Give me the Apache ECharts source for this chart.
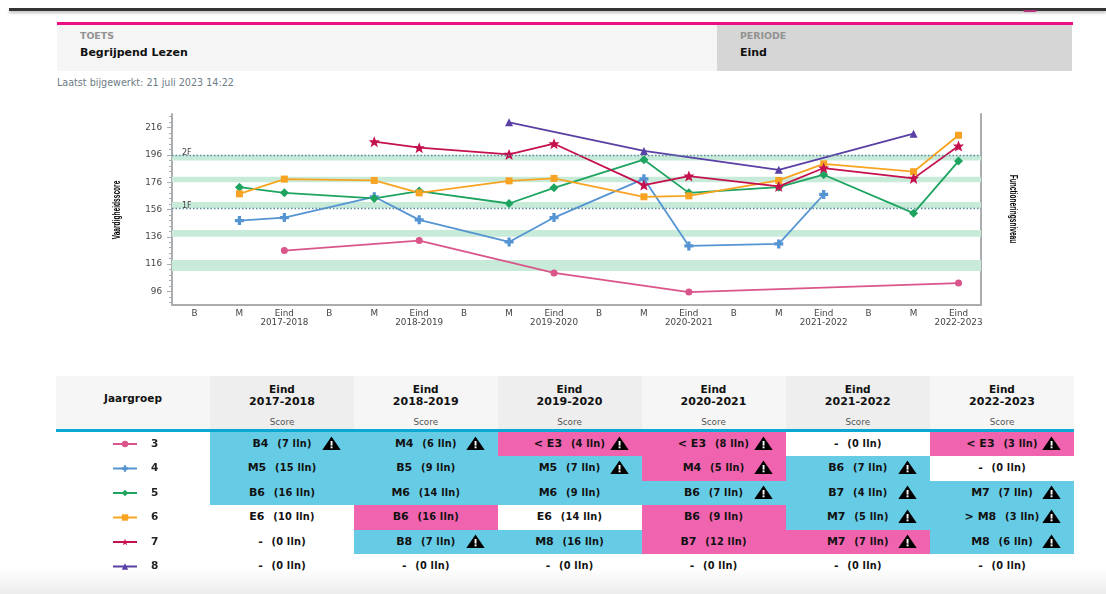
<!DOCTYPE html>
<html>
<head>
<meta charset="utf-8">
<script src="https://cdn.jsdelivr.net/npm/echarts@6/dist/echarts.min.js"></script>
<style>
  html, body { margin: 0; padding: 0; background: #fff; }
  body { width: 1106px; height: 594px; overflow: hidden; position: relative; font-family: "DejaVu Sans", sans-serif; color: #111; }
  .abs { position: absolute; }
  #topbar { left: 9px; right: 0; top: 8px; height: 3px; background: #333; box-shadow: 0 2px 3px #bbb; }
  #arc { left: 1023px; top: 10px; width: 14px; height: 2px; background: #b0307a; border-radius: 0 0 8px 8px; }
  #pink { left: 57px; top: 22px; width: 1016px; height: 3px; background: #ec0f83; }
  #toets { left: 57px; top: 25px; width: 660px; height: 46px; background: #f5f5f5; }
  #periode { left: 717px; top: 25px; width: 355px; height: 46px; background: #d6d6d6; }
  .lab { font-size: 9.4px; font-weight: bold; color: #929292; position: absolute; left: 23px; top: 5px; }
  .val { font-size: 11px; font-weight: bold; color: #111; position: absolute; left: 23px; top: 21px; }
  #updated { left: 57px; top: 77px; font-size: 9.6px; color: #6d7c86; }
  #bottom { left: 0; right: 0; top: 568px; height: 26px; background: linear-gradient(#fff, #ececec); }
  #tabel { left: 56px; top: 376px; width: 1018px; border-collapse: collapse; table-layout: fixed; }
  #tabel th { padding: 0; height: 52.5px; background: #f6f6f6; font-size: 10.5px; line-height: 12px; border-bottom: 3px solid #0aa8d2; position: relative; }
  #tabel th.even { background: #eeeeee; }
  #tabel th small { position: absolute; left: 0; right: 0; top: 40px; font-size: 8.8px; font-weight: normal; color: #555; }
  #tabel th .kop { position: absolute; left: 0; right: 0; top: 7px; }
  #tabel th .jaar { font-size: 11px; }
  #tabel td { padding: 0 0 1px 0; height: 23.5px; text-align: center; font-size: 11px; font-weight: bold; position: relative; white-space: nowrap; }
  #tabel td span { font-size: 9.8px; margin-left: 5px; letter-spacing: 0.2px; }
  #tabel td.b { background: #66cce6; }
  #tabel td.p { background: #f063ae; }
  #tabel td svg { position: absolute; right: 13px; top: 4px; }
  #chart { left: 0; top: 0; width: 1106px; height: 594px; }
</style>
</head>
<body>
<div class="abs" id="topbar"></div>
<div class="abs" id="arc"></div>
<div class="abs" id="pink"></div>
<div class="abs" id="toets"><div class="lab">TOETS</div><div class="val">Begrijpend Lezen</div></div>
<div class="abs" id="periode"><div class="lab">PERIODE</div><div class="val">Eind</div></div>
<div class="abs" id="updated">Laatst bijgewerkt: 21 juli 2023 14:22</div>
<div class="abs" id="bottom"></div>
<table class="abs" id="tabel"></table>
<div class="abs" id="chart"></div>

<script>
  // assen
  var schooljaren = ['2017-2018', '2018-2019', '2019-2020', '2020-2021', '2021-2022', '2022-2023'];
  var momenten = ['B', 'M', 'Eind', 'B', 'M', 'Eind', 'B', 'M', 'Eind', 'B', 'M', 'Eind', 'B', 'M', 'Eind', 'B', 'M', 'Eind'];
  var yLabels = [96, 116, 136, 156, 176, 196, 216];
  var yMinorTicks = [88, 92, 100, 104, 108, 112, 120, 124, 128, 132, 140, 144, 148, 152, 160, 164, 168, 172, 180, 184, 188, 192, 200, 204, 208, 212, 220, 224];

  // vaardigheidsscore per jaargroep (B, M, Eind per schooljaar)
  var groep3 = [null, null, 125.9, null, null, 133.2, null, null, 109.5, null, null, 95.5, null, null, null, null, null, 102.1];
  var groep4 = [null, 147.9, 150.1, null, 165.3, 148.4, null, 132.2, 150.1, null, 178.5, 129.3, null, 130.8, 167, null, null, null];
  var groep5 = [null, 172.4, 168.2, null, 164.1, 169.5, null, 160.4, 171.9, null, 192.5, 168.2, null, 172.4, 181.5, null, 153.3, 191.5];
  var groep6 = [null, 167.5, 178.3, null, 177.3, 168.2, null, 177, 178.8, null, 165.3, 166, null, 177.3, 189.5, null, 183.7, 210.4];
  var groep7 = [null, null, null, null, 205.7, 201.3, null, 196.4, 204.2, null, 173.9, 180.5, null, 172.9, 186.4, null, 178.8, 202.5];
  var groep8 = [null, null, null, null, null, null, null, 219.9, null, null, 198.9, null, null, 185.1, null, null, 211.6, null];

  // groene banden en referentieniveaus
  var banden = [[192, 196], [176, 180], [157, 161.5], [136, 141], [111, 119]];
  var niveaus = [['2F', 195.7], ['1F', 157]];

  // tabel
  var jaargroepen = ['3', '4', '5', '6', '7', '8'];
  var scores = [
    ['B4', 'M4', '< E3', '< E3', '-', '< E3'],
    ['M5', 'B5', 'M5', 'M4', 'B6', '-'],
    ['B6', 'M6', 'M6', 'B6', 'B7', 'M7'],
    ['E6', 'B6', 'E6', 'B6', 'M7', '> M8'],
    ['-', 'B8', 'M8', 'B7', 'M7', 'M8'],
    ['-', '-', '-', '-', '-', '-']
  ];
  var leerlingen = [
    [7, 6, 4, 8, 0, 3],
    [15, 9, 7, 5, 7, 0],
    [16, 14, 9, 7, 4, 7],
    [10, 16, 14, 9, 5, 3],
    [0, 7, 16, 12, 7, 6],
    [0, 0, 0, 0, 0, 0]
  ];
  var kleuren = [
    ['b', 'b', 'p', 'p', 'w', 'p'],
    ['b', 'b', 'b', 'p', 'b', 'w'],
    ['b', 'b', 'b', 'b', 'b', 'b'],
    ['w', 'p', 'w', 'p', 'b', 'b'],
    ['w', 'b', 'b', 'p', 'p', 'b'],
    ['w', 'w', 'w', 'w', 'w', 'w']
  ];
  var waarschuwing = [
    [1, 1, 1, 1, 0, 1],
    [0, 0, 1, 1, 1, 0],
    [0, 0, 0, 1, 1, 1],
    [0, 0, 0, 0, 1, 1],
    [0, 1, 0, 0, 1, 1],
    [0, 0, 0, 0, 0, 0]
  ];

  var driehoek = '<svg width="19" height="14" viewBox="0 0 19 14"><path d="M9.5 0.5 L18.7 14 L0.3 14 Z" fill="#000"/><rect x="8.6" y="5" width="1.9" height="4.6" fill="#fff"/><rect x="8.6" y="10.4" width="1.9" height="1.9" fill="#fff"/></svg>';

  function buildTabel() {
    var html = '<colgroup><col style="width:154px">';
    var breedtes = [144, 143.5, 144, 144, 144.5, 144];
    breedtes.forEach(function (b) { html += '<col style="width:' + b + 'px">'; });
    html += '</colgroup><tr><th><div class="kop" style="top:16px">Jaargroep</div></th>';
    schooljaren.forEach(function (j, i) {
      html += '<th class="' + (i % 2 === 0 ? 'even' : '') + '"><div class="kop">Eind<br><span class="jaar">' + j + '</span></div><small>Score</small></th>';
    });
    html += '</tr>';
    jaargroepen.forEach(function (g, r) {
      html += '<tr><td></td>';
      schooljaren.forEach(function (j, c) {
        var score = scores[r][c].replace('<', '&lt;').replace('>', '&gt;');
        html += '<td class="' + kleuren[r][c] + '">' + score + ' <span>(' + leerlingen[r][c] + ' lln)</span>' + (waarschuwing[r][c] ? driehoek : '') + '</td>';
      });
      html += '</tr>';
    });
    document.getElementById('tabel').innerHTML = html;
  }
  buildTabel();

  var plusSymbol = 'path://M3.2 0H6.8V3.2H10V6.8H6.8V10H3.2V6.8H0V3.2H3.2Z';
  var starSymbol = 'path://M5 0L6.4 3.4H10L7.2 5.8L8.3 9.5L5 7.4L1.7 9.5L2.8 5.8L0 3.4H3.6Z';

  function lijn(naam, data, kleur, symbool, grootte) {
    return {
      name: naam,
      type: 'line',
      data: data,
      connectNulls: true,
      z: 3,
      symbol: symbool,
      symbolSize: grootte,
      showAllSymbol: true,
      lineStyle: { color: kleur, width: 1.8 },
      itemStyle: { color: kleur }
    };
  }

  var asKleur = '#a9adb0';
  var myChart = echarts.init(document.getElementById('chart'));
  myChart.setOption({
    animation: false,
    backgroundColor: 'transparent',
    textStyle: { fontFamily: 'DejaVu Sans' },
    grid: { left: 172, right: 125, top: 114, bottom: 289 },
    graphic: [
      {
        type: 'text',
        x: 117,
        y: 210,
        rotation: Math.PI / 2,
        scaleX: 0.6,
        style: { text: 'Vaardigheidsscore', font: 'bold 11px "Liberation Sans"', fill: '#000', textAlign: 'center', textVerticalAlign: 'middle' }
      },
      {
        type: 'text',
        x: 1013,
        y: 209,
        rotation: -Math.PI / 2,
        scaleX: 0.6,
        style: { text: 'Functioneringsniveau', font: 'bold 11px "Liberation Sans"', fill: '#000', textAlign: 'center', textVerticalAlign: 'middle' }
      }
    ],
    legend: {
      orient: 'vertical',
      left: 112,
      top: 438,
      padding: 0,
      data: jaargroepen,
      itemWidth: 24,
      itemHeight: 8,
      itemGap: 12.5,
      textStyle: { fontFamily: 'DejaVu Sans', fontWeight: 'bold', fontSize: 10.5, color: '#222', padding: [0, 0, 0, 9], height: 12, lineHeight: 12 }
    },
    xAxis: {
      type: 'category',
      data: momenten,
      boundaryGap: true,
      axisLine: { lineStyle: { color: asKleur, width: 2 } },
      axisTick: { alignWithLabel: true, length: 3, lineStyle: { color: asKleur } },
      axisLabel: {
        interval: 0,
        margin: 4,
        fontSize: 8.8,
        lineHeight: 9,
        color: '#444',
        formatter: function (v, i) {
          return v === 'Eind' ? 'Eind\n' + schooljaren[(i - 2) / 3] : v;
        }
      }
    },
    yAxis: [
      {
        type: 'value',
        min: 86,
        max: 226,
        splitLine: { show: false },
        axisLine: { show: true, lineStyle: { color: asKleur, width: 2 } },
        axisTick: { show: true, length: 5, customValues: yLabels, lineStyle: { color: asKleur } },
        axisLabel: { customValues: yLabels, fontSize: 8.8, margin: 10, color: '#444' }
      },
      {
        type: 'value',
        min: 86,
        max: 226,
        position: 'left',
        splitLine: { show: false },
        axisLine: { show: false },
        axisTick: { show: true, length: 3, customValues: yMinorTicks, lineStyle: { color: asKleur } },
        axisLabel: { show: false }
      },
      {
        type: 'value',
        min: 86,
        max: 226,
        position: 'right',
        splitLine: { show: false },
        axisLine: { show: true, lineStyle: { color: asKleur, width: 2 } },
        axisTick: { show: false },
        axisLabel: { show: false }
      }
    ],
    series: [
      {
        name: 'niveaus',
        type: 'line',
        data: [],
        z: 1,
        silent: true,
        markArea: {
          silent: true,
          itemStyle: { color: '#c8ead9' },
          data: banden.map(function (b) { return [{ yAxis: b[0] }, { yAxis: b[1] }]; })
        },
        markLine: {
          silent: true,
          symbol: 'none',
          lineStyle: { color: '#5f8a9e', type: [1.5, 2], width: 1.3 },
          label: { position: 'insideStartTop', distance: [10, -2], fontSize: 8, color: '#444', formatter: '{b}' },
          data: niveaus.map(function (n) { return { name: n[0], yAxis: n[1] }; })
        }
      },
      lijn('3', groep3, '#d9558a', 'circle', 7),
      lijn('4', groep4, '#5594d3', plusSymbol, 9),
      lijn('5', groep5, '#1ea45f', 'diamond', 9),
      lijn('6', groep6, '#f8a422', 'rect', 7),
      lijn('7', groep7, '#c5104f', starSymbol, 11),
      lijn('8', groep8, '#5a3fa5', 'triangle', 8)
    ]
  });
</script>
</body>
</html>
